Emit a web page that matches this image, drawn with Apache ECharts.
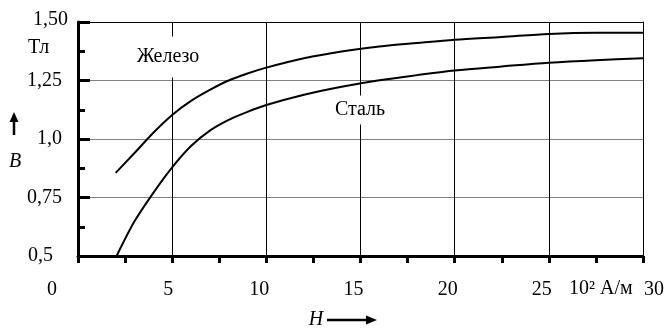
<!DOCTYPE html>
<html>
<head>
<meta charset="utf-8">
<script src="https://cdn.jsdelivr.net/npm/echarts@6/dist/echarts.min.js"></script>
<style>html,body{margin:0;padding:0;background:#fff;}#c{width:667px;height:329px;}</style>
</head>
<body>
<div id="c"></div>
<script>
// Data (H in 10^2 A/m, B in T)
var ironH = [2.0, 3.0, 4.0, 5.0, 6.0, 7.0, 8.0, 9.0, 10.0, 12.0, 14.0, 16.0, 18.0, 20.0, 22.5, 25.0, 27.5, 30.0];
var ironB = [0.855, 0.94, 1.027, 1.103, 1.163, 1.21, 1.25, 1.28, 1.305, 1.345, 1.374, 1.395, 1.41, 1.424, 1.436, 1.449, 1.454, 1.454];
var steelH = [2.05, 3.0, 4.0, 5.0, 6.0, 7.0, 8.0, 9.0, 10.0, 12.0, 14.0, 16.0, 18.0, 20.0, 22.5, 25.0, 27.5, 30.0];
var steelB = [0.5, 0.648, 0.77, 0.879, 0.97, 1.036, 1.082, 1.116, 1.145, 1.189, 1.223, 1.251, 1.273, 1.293, 1.310, 1.326, 1.337, 1.345];
var yTickLabels = {'0.5': '0,5', '0.75': '0,75', '1': '1,0', '1.25': '1,25', '1.5': '1,50'};
var xTickLabels = ['0', '5', '10', '15', '20', '25', '30'];

function pairs(xs, ys) { return xs.map(function (x, i) { return [x, ys[i]]; }); }

var FF = 'Liberation Serif';
var FS = 20;
function rs(p) { return {fontFamily: FF, fontSize: FS, color: '#000', padding: p}; }

var chart = echarts.init(document.getElementById('c'));
chart.setOption({
  animation: false,
  backgroundColor: '#fff',
  grid: {left: 78, right: 23, top: 22, bottom: 73},
  xAxis: [{
    type: 'value', min: 0, max: 30, interval: 5,
    axisLine: {onZero: false, lineStyle: {color: '#000', width: 3}},
    axisTick: {show: true, inside: false, length: 7, lineStyle: {color: '#000', width: 3}},
    minorTick: {show: true, splitNumber: 2, length: 7, lineStyle: {color: '#000', width: 3}},
    splitLine: {show: true, lineStyle: {color: '#000', width: 1}},
    axisLabel: {
      margin: 24,
      formatter: function (v) {
        var s = xTickLabels[Math.round(v / 5)];
        if (v === 0) return '{z|' + s + '}';
        if (v === 30) return '{r|' + s + '}';
        if (v === 5) return '{f|' + s + '}';
        return '{n|' + s + '}';
      },
      rich: {z: rs([0, 52, 0, 0]), f: rs([0, 8, 0, 0]), n: rs([0, 14, 0, 0]), r: rs([0, 0, 0, 22])}
    }
  }, {
    type: 'value', min: 0, max: 30, position: 'top',
    axisLine: {show: true, onZero: false, lineStyle: {color: '#000', width: 1}},
    axisTick: {show: false}, axisLabel: {show: false}, splitLine: {show: false}
  }],
  yAxis: [{
    type: 'value', min: 0.5, max: 1.5, interval: 0.25,
    axisLine: {show: true, onZero: false, lineStyle: {color: '#000', width: 3}},
    axisTick: {show: true, inside: true, length: 12, lineStyle: {color: '#000', width: 3}},
    minorTick: {show: true, splitNumber: 2, length: 7, lineStyle: {color: '#000', width: 3}},
    splitLine: {show: true, lineStyle: {color: '#808080', width: 1}},
    axisLabel: {
      margin: 10,
      formatter: function (v) {
        var s = yTickLabels[String(Math.round(v * 100) / 100)];
        if (Math.abs(v - 1.5) < 1e-6) return '{t|' + s + '}';
        if (Math.abs(v - 0.5) < 1e-6) return '{b|' + s + '}';
        return '{n|' + s + '}';
      },
      rich: {t: rs([0, 0, 4, 0]), b: rs([0, 15, 0, 0]), n: rs([0, 6, 0, 0])}
    }
  }, {
    type: 'value', min: 0.5, max: 1.5, position: 'right',
    axisLine: {show: true, onZero: false, lineStyle: {color: '#000', width: 1}},
    axisTick: {show: false}, axisLabel: {show: false}, splitLine: {show: false}
  }],
  series: [{
    name: 'Железо', type: 'line', data: pairs(ironH, ironB), smooth: 0.3,
    showSymbol: false, symbol: 'none', lineStyle: {color: '#000', width: 2}, z: 5
  }, {
    name: 'Сталь', type: 'line', data: pairs(steelH, steelB), smooth: 0.3,
    showSymbol: false, symbol: 'none', lineStyle: {color: '#000', width: 2}, z: 5
  }],
  graphic: [
    {type: 'text', z: 100, x: 168, y: 57, style: {text: 'Железо', font: FS + 'px "' + FF + '"', fill: '#000', align: 'center', verticalAlign: 'middle', backgroundColor: '#fff', padding: [17, 4, 4, 4]}},
    {type: 'text', z: 100, x: 360, y: 110, style: {text: 'Сталь', font: FS + 'px "' + FF + '"', fill: '#000', align: 'center', verticalAlign: 'middle', backgroundColor: '#fff', padding: [4, 4, 5, 4]}},
    {type: 'text', z: 100, x: 28, y: 48, style: {text: 'Тл', font: FS + 'px "' + FF + '"', fill: '#000', align: 'left', verticalAlign: 'middle'}},
    {type: 'text', z: 100, x: 15, y: 162, style: {text: 'B', font: 'italic ' + FS + 'px "' + FF + '"', fill: '#000', align: 'center', verticalAlign: 'middle'}},
    {type: 'text', z: 100, x: 316, y: 320, style: {text: 'H', font: 'italic ' + FS + 'px "' + FF + '"', fill: '#000', align: 'center', verticalAlign: 'middle'}},
    {type: 'text', z: 100, x: 569, y: 289, style: {text: '10² А/м', font: FS + 'px "' + FF + '"', fill: '#000', align: 'left', verticalAlign: 'middle'}},
    {type: 'line', z: 100, shape: {x1: 14, y1: 120, x2: 14, y2: 135}, style: {stroke: '#000', lineWidth: 2.5}},
    {type: 'polygon', z: 100, shape: {points: [[14, 112], [9.5, 122], [18.5, 122]]}, style: {fill: '#000'}},
    {type: 'line', z: 100, shape: {x1: 327, y1: 320, x2: 368, y2: 320}, style: {stroke: '#000', lineWidth: 2.5}},
    {type: 'polygon', z: 100, shape: {points: [[377, 320], [366, 315.5], [366, 324.5]]}, style: {fill: '#000'}}
  ]
});
</script>
</body>
</html>
